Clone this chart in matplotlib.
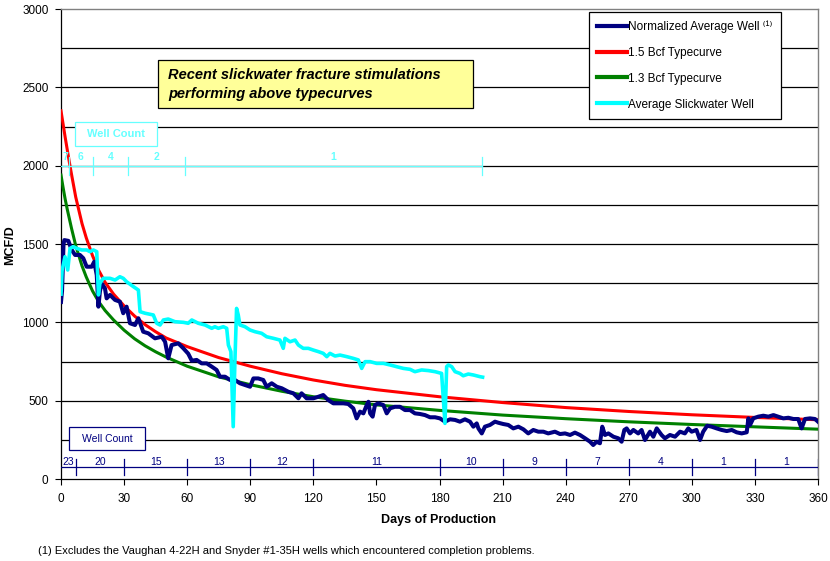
import matplotlib
matplotlib.use("Agg")
import matplotlib.pyplot as plt
from matplotlib.patches import Rectangle

plt.rcParams['font.family'] = ['Liberation Sans', 'DejaVu Sans']

# ---------------- data ----------------
navy_days = [0, 0.5, 1.2, 1.6, 3.5, 5.1, 6.7, 9, 10.6, 12.2, 14.6, 15.8, 17, 17.8, 18.5, 19.3, 20.9, 21.7,
             23.3, 25.7, 28, 29.6, 31.2, 32.8, 35.2, 36.8, 39.1, 41.5, 44.7, 47.9, 49.5, 51, 52.6, 55.8, 58.2,
             60.5, 62.2, 64.5, 66.9, 69.3, 71.7, 74, 75.6, 78, 80.4, 82.7, 85.1, 87.5, 89.9, 91.5, 93.8, 96.2,
             97.8, 100.2, 102.6, 105, 108.1, 110.5, 112.9, 114.4, 116.8, 120, 122.4, 124.7, 127.1, 129.5, 131.1,
             134.3, 136.6, 139, 140.6, 142.2, 143.8, 145.4, 146.2, 147, 148.2, 149.3, 150.9, 153.3, 154.9, 156.5,
             158.8, 161.2, 163.6, 166, 168.3, 170.7, 173.1, 175.5, 177.9, 180.2, 182.6, 185, 187.4, 189.7, 192.1,
             194.5, 196.1, 197.7, 198.5, 200.1, 201.6, 204, 206.4, 208, 210.3, 212.7, 215.1, 217.5, 219.9, 222.2,
             224.6, 227, 229.4, 231.7, 234.9, 237.3, 239.7, 242.1, 244.4, 246.8, 249.2, 251.6, 253.1, 254.7,
             256.3, 257.4, 258.7, 260.3, 262.7, 265, 266.6, 267.9, 269, 270.6, 272.2, 274.5, 276.1, 277.7, 280.1,
             281.7, 283.3, 285.6, 287.2, 289.6, 292, 294.4, 296.7, 298.3, 299.9, 302.2, 303.9, 305.4, 307.3,
             309.4, 311.8, 314.2, 316.6, 319, 321.3, 323.7, 326.1, 326.9, 327.7, 329.2, 331.6, 334, 336.4, 338.8,
             341.1, 343.5, 345.9, 348.3, 350.6, 352.2, 353.8, 356.2, 358.6, 360]
navy_vals = [1130, 1200, 1500, 1525, 1520, 1462, 1430, 1430, 1409, 1355, 1355, 1387, 1302, 1100, 1196, 1249, 1217,
             1153, 1175, 1143, 1132, 1058, 1100, 994, 983, 1026, 940, 930, 898, 908, 876, 770, 855, 866, 834,
             800, 755, 760, 738, 738, 717, 696, 653, 653, 632, 632, 611, 600, 589, 642, 642, 632,
             589, 611, 589, 579, 557, 547, 515, 547, 515, 515, 525, 536, 504, 483, 483,
             483, 479, 451, 387, 430, 419, 472, 493, 419, 398, 472, 483, 472, 419, 451,
             461, 461, 440, 440, 419, 415, 408, 394, 394, 387, 366, 381, 377, 366, 381,
             366, 334, 355, 323, 291, 334, 345, 366, 359, 351, 345, 323, 334, 317, 291,
             313, 302, 302, 291, 302, 287, 291, 281, 296, 281, 260, 238, 217, 238,
             228, 334, 281, 291, 270, 260, 238, 313, 323, 291, 313, 291, 313, 249, 302,
             270, 323, 281, 260, 281, 270, 302, 291, 323, 302, 313, 249, 302, 340,
             334, 323, 313, 306, 313, 298, 291, 298, 387, 345, 387, 398, 404, 398, 408,
             398, 387, 391, 383, 383, 323, 383, 387, 383, 366]

cyan_days = [0, 0.5, 1.9, 3.2, 4.3, 5.8, 7.5, 9.8, 12.2, 13.8, 15.4, 17, 17.8, 18.5, 20.1, 23.3, 25.7, 28,
             29.6, 31.2, 34.4, 36.8, 37.6, 40, 43.9, 45.5, 47.1, 48.7, 51, 54.2, 58.2, 60.5, 62.2, 65.3, 68.5,
             71.7, 73.2, 74.8, 77.2, 78.8, 79.6, 80.8, 81.9, 82.7, 83.5, 84.3, 85.1, 87.5, 89.9, 92.3, 95.4,
             97.8, 101, 104.1, 105.7, 106.5, 108.9, 111.3, 112.9, 115.2, 117.6, 120, 122.4, 124.7, 126.4, 127.9,
             130.3, 132.7, 135.9, 139, 141.4, 143, 144.6, 147, 150.1, 153.3, 156.5, 159.6, 162.8, 166, 168.3,
             171.5, 174.7, 177.9, 181, 182.6, 183.4, 184.2, 185.8, 187.4, 189.7, 191.3, 193.7, 196.1, 199.3, 200.5]
cyan_vals = [1180, 1330, 1419, 1334, 1472, 1483, 1472, 1462, 1462, 1451, 1462, 1451, 1175, 1249, 1281, 1281, 1270,
             1291, 1281, 1259, 1228, 1206, 1068, 1058, 1047, 994, 983, 1015, 1021, 1004, 1000, 994, 1015, 994, 983,
             962, 972, 962, 972, 962, 855, 813, 334, 749, 1089, 1047, 983, 972, 951, 940, 930,
             908, 898, 887, 834, 898, 876, 887, 855, 834, 834, 823, 813, 802, 781, 802,
             785, 791, 781, 770, 760, 706, 749, 749, 738, 738, 728, 717, 706, 700, 685,
             696, 692, 685, 674, 355, 717, 728, 717, 685, 674, 659, 670, 664, 653, 650]

type_days = [0, 1, 2, 3, 4, 5, 7, 10, 12, 15, 18, 21, 25, 30, 35, 40, 45, 50, 60, 75, 90, 105, 120, 135,
             150, 180, 210, 240, 270, 300, 330, 360]
tc15_vals = [2350, 2265, 2180, 2100, 2020, 1945, 1800, 1630, 1540, 1425, 1330, 1255, 1180, 1105, 1040, 985,
             940, 900, 845, 775, 720, 672, 632, 598, 570, 525, 488, 456, 431, 410, 393, 378]
tc13_vals = [1940, 1860, 1785, 1720, 1660, 1600, 1490, 1360, 1290, 1200, 1130, 1075, 1015, 950, 895, 850,
             812, 778, 720, 652, 602, 560, 525, 497, 473, 438, 408, 385, 365, 348, 333, 318]

# well counts (normalized average well) - day boundaries and counts
wc_bounds = [0, 7, 30, 60, 90, 120, 180, 210, 240, 270, 300, 330, 360]
wc_counts = ['23', '20', '15', '13', '12', '11', '10', '9', '7', '4', '1', '1']
# well counts (slickwater)
sw_bounds = [0, 4, 15, 32, 59, 200]
sw_counts = ['7', '6', '4', '2', '1']

x_ticks = list(range(0, 361, 30))
y_ticks = list(range(0, 3001, 500))

NAVY = '#000080'
CYAN = '#00FFFF'
CYAN_TXT = '#66FFFF'

# ---------------- figure ----------------
W, H = 830, 561
fig = plt.figure(figsize=(W / 100, H / 100), dpi=100)
fig.patch.set_facecolor('white')
ax = fig.add_axes([61 / W, 1 - 479 / H, (818 - 61) / W, (479 - 9) / H])
ax.set_xlim(0, 360)
ax.set_ylim(0, 3000)

# gridlines
for g in range(250, 3000, 250):
    ax.axhline(g, color='black', lw=0.9, zorder=1)

ax.set_xticks(x_ticks)
ax.set_yticks(y_ticks)
ax.tick_params(axis='both', direction='out', length=4, width=0.8, labelsize=8.5, colors='black')
ax.tick_params(axis='x', pad=6)
ax.tick_params(axis='y', pad=5)
for s in ['top', 'right']:
    ax.spines[s].set_color('#808080')
    ax.spines[s].set_linewidth(1.0)
for s in ['left', 'bottom']:
    ax.spines[s].set_color('black')
    ax.spines[s].set_linewidth(0.9)

# series
l1, = ax.plot(navy_days, navy_vals, color=NAVY, lw=2.9, zorder=4,
              label='Normalized Average Well \u207d\u00b9\u207e')
l2, = ax.plot(type_days, tc15_vals, color='#FF0000', lw=2.2, zorder=3, label='1.5 Bcf Typecurve')
l3, = ax.plot(type_days, tc13_vals, color='#008000', lw=2.2, zorder=3, label='1.3 Bcf Typecurve')
l4, = ax.plot(cyan_days, cyan_vals, color=CYAN, lw=2.6, zorder=5, label='Average Slickwater Well')

# bottom well count line
wc_y = 75
ax.plot([wc_bounds[0], wc_bounds[-1]], [wc_y, wc_y], color=NAVY, lw=0.9, zorder=6)
for b in wc_bounds[1:]:
    ax.plot([b, b], [25, 128], color=NAVY, lw=0.9, zorder=6)
for i, c in enumerate(wc_counts):
    xm = (wc_bounds[i] + wc_bounds[i + 1]) / 2
    ax.text(xm, 110, c, color=NAVY, fontsize=7.5, ha='center', va='center', zorder=7)

# slickwater well count line
sw_y = 2000
ax.plot([sw_bounds[0], sw_bounds[-1]], [sw_y, sw_y], color=CYAN_TXT, lw=0.9, zorder=6)
for b in sw_bounds[1:]:
    ax.plot([b, b], [1940, 2055], color=CYAN_TXT, lw=0.9, zorder=6)
for i, c in enumerate(sw_counts):
    xm = (sw_bounds[i] + sw_bounds[i + 1]) / 2
    ax.text(xm, 2055, c, color=CYAN_TXT, fontsize=7.5, fontweight='bold', ha='center', va='center', zorder=7)

# boxes (figure pixel coords)
def px_rect(x0, y0, x1, y1, fc, ec, lw=0.9, z=8):
    r = Rectangle((x0 / W, 1 - y1 / H), (x1 - x0) / W, (y1 - y0) / H, transform=fig.transFigure,
                  facecolor=fc, edgecolor=ec, lw=lw, zorder=z)
    fig.add_artist(r)

px_rect(75, 122, 157, 146, 'white', CYAN_TXT)
fig.text(116 / W, 1 - 134 / H, 'Well Count', color=CYAN_TXT, fontsize=8, fontweight='bold',
         ha='center', va='center', zorder=9)

px_rect(69, 427, 145, 450, 'white', NAVY)
fig.text(107 / W, 1 - 438.5 / H, 'Well Count', color=NAVY, fontsize=7.5,
         ha='center', va='center', zorder=9)

px_rect(158, 60, 473, 108, '#FFFF99', 'black')
fig.text(168 / W, 1 - 75 / H, 'Recent slickwater fracture stimulations', fontsize=10.5,
         fontweight='bold', fontstyle='italic', ha='left', va='center', zorder=9)
fig.text(168 / W, 1 - 94 / H, 'performing above typecurves', fontsize=10.5,
         fontweight='bold', fontstyle='italic', ha='left', va='center', zorder=9)

# legend
leg = ax.legend(handles=[l1, l2, l3, l4], loc='upper left',
                bbox_to_anchor=(589 / W, 1 - 12 / H), bbox_transform=fig.transFigure,
                borderaxespad=0, fontsize=8.5, frameon=True, fancybox=False, framealpha=1,
                edgecolor='black', handlelength=2.5, handletextpad=0.1, labelspacing=1.18,
                borderpad=0.7)
leg.get_frame().set_linewidth(0.9)
for h in leg.get_lines():
    h.set_linewidth(3.0)
leg.set_zorder(10)

# axis labels
fig.text(10 / W, 1 - 245 / H, 'MCF/D', rotation=90, fontsize=9, fontweight='bold', ha='center', va='center')
fig.text(438 / W, 1 - 520 / H, 'Days of Production', fontsize=9, fontweight='bold', ha='center', va='center')
fig.text(38 / W, 1 - 551 / H,
         '(1) Excludes the Vaughan 4-22H and Snyder #1-35H wells which encountered completion problems.',
         fontsize=8, ha='left', va='center')

fig.savefig('out.png', dpi=100)
